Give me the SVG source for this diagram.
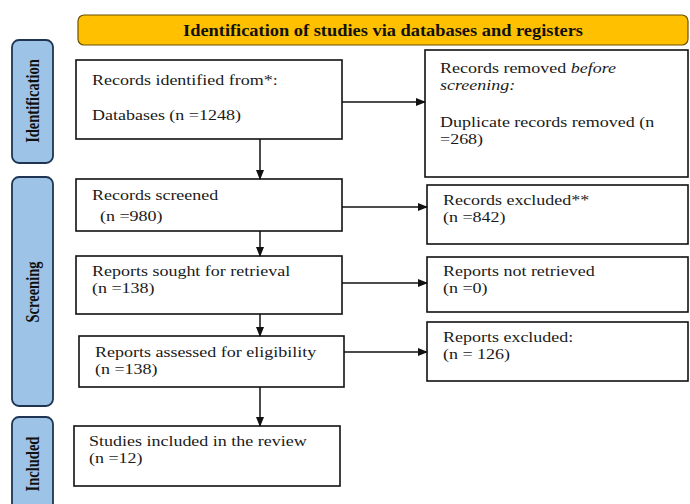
<svg xmlns="http://www.w3.org/2000/svg" width="690" height="504" viewBox="0 0 690 504">
<style>
.box{fill:#fff;stroke:#111;stroke-width:1.6}
.side{fill:#9dc3e6;stroke:#1f3450;stroke-width:1.8}
.hdr{fill:#ffc000;stroke:#6b5000;stroke-width:1.2}
.t{font-family:"Liberation Serif","Times New Roman",serif;font-size:15px;fill:#1a1a1a}
.b{font-family:"Liberation Serif","Times New Roman",serif;font-weight:bold;fill:#111}
.c{stroke:#111;stroke-width:1.5;fill:none}
</style>
<defs>
<marker id="ah" markerWidth="10" markerHeight="8" refX="9" refY="4" orient="auto" markerUnits="userSpaceOnUse">
<path d="M0,0 L10,4 L0,8 Z" fill="#111"/>
</marker>
</defs>
<rect width="690" height="504" fill="#fff"/>
<g id="header">
<rect class="hdr" x="78" y="15" width="610" height="30" rx="6"/>
<text class="b" x="383" y="36" font-size="16" text-anchor="middle" textLength="400" lengthAdjust="spacingAndGlyphs">Identification of studies via databases and registers</text>
</g>
<g id="side-identification">
<rect class="side" x="12" y="40" width="41" height="123" rx="7"/>
<text class="b" font-size="14.5" text-anchor="middle" transform="translate(39,101) rotate(-90) scale(1,1.25)">Identification</text>
</g>
<g id="side-screening">
<rect class="side" x="12" y="177" width="41" height="229" rx="7"/>
<text class="b" font-size="14.5" text-anchor="middle" transform="translate(39,292) rotate(-90) scale(1,1.25)">Screening</text>
</g>
<g id="side-included">
<rect class="side" x="12" y="417" width="41" height="110" rx="7"/>
<text class="b" font-size="14.5" text-anchor="middle" transform="translate(39,464) rotate(-90) scale(1,1.25)">Included</text>
</g>
<g id="identified">
<rect class="box" x="76" y="60" width="266" height="79"/>
<text class="t" transform="translate(92,85) scale(1.2,1)">Records identified from*:</text>
<text class="t" transform="translate(92,120) scale(1.2,1)">Databases (n =1248)</text>
</g>
<g id="removed">
<rect class="box" x="425" y="50" width="263" height="127"/>
<text class="t" transform="translate(440,73) scale(1.2,1)">Records removed <tspan font-style="italic">before</tspan></text>
<text class="t" transform="translate(440,90) scale(1.2,1)" font-style="italic">screening:</text>
<text class="t" transform="translate(440,127) scale(1.2,1)">Duplicate records removed (n</text>
<text class="t" transform="translate(440,144) scale(1.2,1)">=268)</text>
</g>
<g id="screened">
<rect class="box" x="76" y="179" width="266" height="52"/>
<text class="t" transform="translate(92,200) scale(1.2,1)">Records screened</text>
<text class="t" transform="translate(100,221) scale(1.2,1)">(n =980)</text>
</g>
<g id="excluded">
<rect class="box" x="427" y="185" width="261" height="59"/>
<text class="t" transform="translate(443,205) scale(1.2,1)">Records excluded**</text>
<text class="t" transform="translate(443,222) scale(1.2,1)">(n =842)</text>
</g>
<g id="sought">
<rect class="box" x="76" y="256" width="266" height="58"/>
<text class="t" transform="translate(92,276) scale(1.2,1)">Reports sought for retrieval</text>
<text class="t" transform="translate(92,293) scale(1.2,1)">(n =138)</text>
</g>
<g id="notretrieved">
<rect class="box" x="427" y="257" width="261" height="55"/>
<text class="t" transform="translate(443,276) scale(1.2,1)">Reports not retrieved</text>
<text class="t" transform="translate(443,293) scale(1.2,1)">(n =0)</text>
</g>
<g id="assessed">
<rect class="box" x="79" y="336" width="265" height="51"/>
<text class="t" transform="translate(95,357) scale(1.2,1)">Reports assessed for eligibility</text>
<text class="t" transform="translate(95,374) scale(1.2,1)">(n =138)</text>
</g>
<g id="repexcluded">
<rect class="box" x="427" y="322" width="261" height="59"/>
<text class="t" transform="translate(443,342) scale(1.2,1)">Reports excluded:</text>
<text class="t" transform="translate(443,359) scale(1.2,1)">(n = 126)</text>
</g>
<g id="included">
<rect class="box" x="74" y="426" width="266" height="60"/>
<text class="t" transform="translate(89,446) scale(1.2,1)">Studies included in the review</text>
<text class="t" transform="translate(89,463) scale(1.2,1)">(n =12)</text>
</g>
<g id="connectors">
<line class="c" x1="342" y1="102" x2="425" y2="102" marker-end="url(#ah)"/>
<line class="c" x1="260" y1="139" x2="260" y2="179" marker-end="url(#ah)"/>
<line class="c" x1="342" y1="207" x2="427" y2="207" marker-end="url(#ah)"/>
<line class="c" x1="260" y1="231" x2="260" y2="256" marker-end="url(#ah)"/>
<line class="c" x1="342" y1="283" x2="427" y2="283" marker-end="url(#ah)"/>
<line class="c" x1="260" y1="314" x2="260" y2="336" marker-end="url(#ah)"/>
<line class="c" x1="344" y1="352" x2="427" y2="352" marker-end="url(#ah)"/>
<line class="c" x1="260" y1="387" x2="260" y2="426" marker-end="url(#ah)"/>
</g>
</svg>
